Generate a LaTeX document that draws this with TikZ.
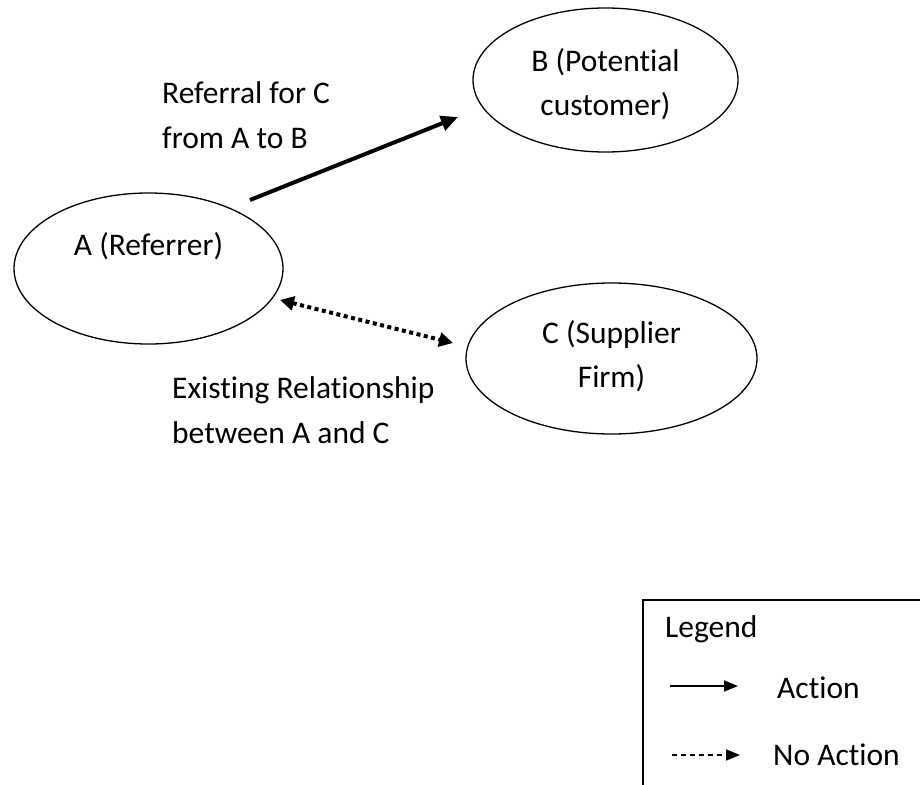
\documentclass[tikz,border=0pt]{standalone}
\usepackage{fontspec}
\setmainfont{Carlito}[Ligatures=NoCommon]
\usetikzlibrary{arrows.meta,shapes.geometric}
\begin{document}
\begin{tikzpicture}[x=1pt,y=-1pt,
  ent/.style={draw,ellipse,line width=1.3pt,inner sep=0pt},
  lbl/.style={anchor=west,align=left,inner sep=0pt,font=\fontsize{31.5}{44.5}\selectfont},
  act/.style={line width=4pt,-{Triangle[length=17pt,width=15pt]}},
  rel/.style={line width=4pt,dash pattern=on 4pt off 3.5pt,{Triangle[length=14pt,width=14pt]}-{Triangle[length=14pt,width=14pt]}},
  legact/.style={line width=1.6pt,-{Triangle[length=14pt,width=11pt]}},
  legno/.style={line width=1.6pt,dash pattern=on 5pt off 4pt,-{Triangle[length=14pt,width=11pt]}}]
\useasboundingbox (0,0) rectangle (920,784);
\fill[white] (0,0) rectangle (920,784);
% ellipses
\node[ent,minimum width=269pt,minimum height=151pt] (A) at (148.5,268.5) {};
\node[lbl,anchor=center] (At) at (148.5,246) {A (Referrer)};
\node[ent,minimum width=265pt,minimum height=144pt] (B) at (605.5,80) {};
\node[lbl,anchor=center,align=center] (Bt) at (605.5,84) {B (Potential\\customer)};
\node[ent,minimum width=291pt,minimum height=151pt] (C) at (611.5,358.5) {};
\node[lbl,anchor=center,align=center] (Ct) at (611.5,356) {C (Supplier\\Firm)};
% labels
\node[lbl] (L1) at (162,115) {Referral for C\\from A to B};
\node[lbl] (L2) at (172,410) {Existing Relationship\\between A and C};
% arrows
\coordinate (ab1) at (250,200);
\coordinate (ab2) at (458,117);
\draw[act] (ab1) -- (ab2);
\coordinate (ac1) at (280,300);
\coordinate (ac2) at (453,343);
\draw[rel] (ac1) -- (ac2);
% legend
\begin{scope}
\clip (0,0) rectangle (920,784);
\draw[line width=1.5pt] (643,800) -- (643,600) -- (940,600);
\end{scope}
\node[lbl] (LG) at (665,629) {Legend};
\coordinate (la1) at (670,686);
\coordinate (la2) at (738,686);
\draw[legact] (la1) -- (la2);
\node[lbl] (LA) at (777,688) {Action};
\coordinate (ln1) at (672,755);
\coordinate (ln2) at (740,755);
\draw[legno] (ln1) -- (ln2);
\node[lbl] (LN) at (773,755) {No Action};
\end{tikzpicture}
\end{document}
